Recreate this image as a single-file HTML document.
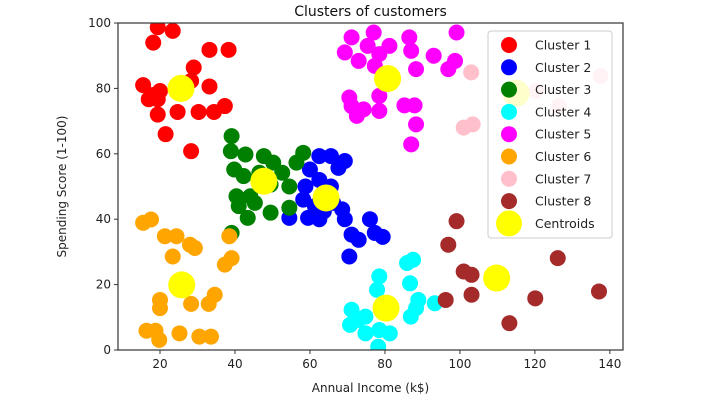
<!DOCTYPE html>
<html><head><meta charset="utf-8">
<style>
body{margin:0;background:#fff;}
svg{display:block;font-family:"DejaVu Sans","Liberation Sans",sans-serif;}
</style></head>
<body>
<svg id="chart" width="722" height="417">
</svg>
<script>
const seriesNames = ["Cluster 1","Cluster 2","Cluster 3","Cluster 4","Cluster 5","Cluster 6","Cluster 7","Cluster 8","Centroids"];
const seriesColors = ["red","blue","green","cyan","magenta","orange","pink","brown","yellow"];
const c1x=[19.4,23.4,18.2,33.2,38.3,29,15.5,20,28.3,33.2,17,19.4,24.7,30.3,34.4,37.3,19.4,21.5,28.3,18.2];
const c1y=[98.7,97.6,94,91.8,91.8,86.4,81,79.2,82.3,80.6,76.7,76.7,72.8,72.8,72.8,74.6,72,66,60.8,78];
const c2x=[62.5,65.6,69.3,67.6,60,62.5,58.8,65.6,58.2,66.2,54.5,59.5,62.5,69.3,63.7,71.1,73,76,77.3,79.4,70.5,61.3,68.6];
const c2y=[59.3,59.3,57.8,55.7,55.2,52,50,50,46,45,40.4,40.4,40,40,42.4,35.3,33.7,40,35.8,34.6,28.6,44,43];
const c3x=[39.1,38.9,42.8,47.7,58.2,56.4,39.8,42.3,52.6,49.5,54.5,40.4,44.1,41,45.3,49.5,43.4,54.5,39.1,50.2,46.5];
const c3y=[65.4,60.8,59.8,59.3,60.3,57.3,55.2,53.2,54.2,50.6,50,47,47,44,45,42,40.4,43.5,35.8,57.3,54.2];
const c4x=[85.9,87.5,86.7,78.5,77.9,88.9,88.3,93.3,71.1,72.9,74.8,70.7,74.8,81.3,78.2,86.9,78.5];
const c4y=[26.6,27.6,20.4,22.5,18.4,15.3,12.8,14.3,12.3,9.2,10.2,7.7,5.1,5.1,1,10.2,6.1];
const c5x=[71.1,77,86.5,99.1,75.4,81.2,87,69.3,73,77.3,88.3,93,96.9,98.7,70.5,72.5,74.3,78.5,78.5,85.2,87.9,88.3,87,71.1,78.5];
const c5y=[95.6,97.1,95.6,97.1,93,93,91.5,91,88.4,86.9,85.9,90,85.9,88.4,77.2,71.6,73.6,77.7,73.1,74.8,74.8,69,62.9,74.6,90.5];
const c6x=[15.5,17.6,21.3,24.4,28,29.3,23.4,38.5,37.3,39.1,20,20,28.3,33,34.6,16.4,18.8,19.8,25.2,30.5,33.6];
const c6y=[38.9,39.9,34.8,34.8,32.2,31.2,28.6,34.8,26.1,28.1,15.3,12.8,14.1,14.1,16.9,5.9,5.9,3.1,5.1,4.1,4.1];
const c7x=[103,101,103.4,120.3,126.4,137.5,114];
const c7y=[84.9,68,69,79.2,74.6,83.8,77.7];
const c8x=[99.1,96.9,101,103.1,96.2,103.1,113.2,120.1,126.1,137.1];
const c8y=[39.4,32.2,24,23,15.3,16.9,8.2,15.8,28.1,17.9];
const cenx=[25.6,47.7,64.3,80.3,80.7,25.8,115,109.8];
const ceny=[80,51.6,46.5,12.8,83,19.9,78.5,22];
const xTicks=[20,40,60,80,100,120,140];
const yTicks=[0,20,40,60,80,100];

const NS="http://www.w3.org/2000/svg";
const svg=document.getElementById('chart');
const L=118,R=623,T=23,B=350;
const xMin=8.8,xMax=143.5,yMin=0,yMax=100;
function sx(v){return L+(v-xMin)/(xMax-xMin)*(R-L);}
function sy(v){return B-(v-yMin)/(yMax-yMin)*(B-T);}
function mk(tag,attrs,parent){const e=document.createElementNS(NS,tag);for(const k in attrs)e.setAttribute(k,attrs[k]);(parent||svg).appendChild(e);return e;}

const clip=mk('clipPath',{id:'pc'});mk('rect',{x:L,y:T,width:R-L,height:B-T},clip);
const plot=mk('g',{'clip-path':'url(#pc)'});



const allX=[c1x,c2x,c3x,c4x,c5x,c6x,c7x,c8x,cenx];
const allY=[c1y,c2y,c3y,c4y,c5y,c6y,c7y,c8y,ceny];
for(let s=0;s<9;s++){
  const g=mk('g',{},plot);
  
  
  const r=s===8?13.5:8;
  for(let i=0;i<allX[s].length;i++){
    const c=mk('circle',{cx:sx(allX[s][i]),cy:sy(allY[s][i]),r:r,fill:seriesColors[s]},g);
    
    
  }
}
// frame
const fr=mk('rect',{x:L,y:T,width:R-L,height:B-T,fill:'none',stroke:'#333','stroke-width':1.2});


// ticks
for(const t of xTicks){
  const x=sx(t);
  const tl=mk('line',{x1:x,x2:x,y1:B,y2:B+4,stroke:'#333'});
  
  
  const tx=mk('text',{x:x,y:B+18,'text-anchor':'middle','font-size':12,fill:'#222'});tx.textContent=t;
  
  
}
for(const t of yTicks){
  const y=sy(t);
  const tl=mk('line',{x1:L-4,x2:L,y1:y,y2:y,stroke:'#333'});
  
  
  const tx=mk('text',{x:L-7,y:y+4,'text-anchor':'end','font-size':12,fill:'#222'});tx.textContent=t;
  
  
}
const ti=mk('text',{x:(L+R)/2,y:16,'text-anchor':'middle','font-size':14,fill:'#111'});ti.textContent='Clusters of customers';


const xl=mk('text',{x:(L+R)/2,y:392,'text-anchor':'middle','font-size':12,fill:'#222'});xl.textContent='Annual Income (k$)';


const yl=mk('text',{x:0,y:0,'text-anchor':'middle','font-size':12,fill:'#222',transform:'translate(66,'+((T+B)/2)+') rotate(-90)'});yl.textContent='Spending Score (1-100)';


// legend
const lg=mk('g',{});


mk('rect',{x:488,y:31,width:124,height:207,rx:3,fill:'#fff','fill-opacity':0.8,stroke:'#ccc'},lg);
for(let s=0;s<9;s++){
  const y=45+s*22.3;
  const e=mk('g',{},lg);
  
  
  mk('circle',{cx:509,cy:y,r:s===8?13:8,fill:seriesColors[s]},e);
  const t=mk('text',{x:535,y:y+4.5,'font-size':12.5,fill:'#222'},e);t.textContent=seriesNames[s];
}
</script>
</body></html>
